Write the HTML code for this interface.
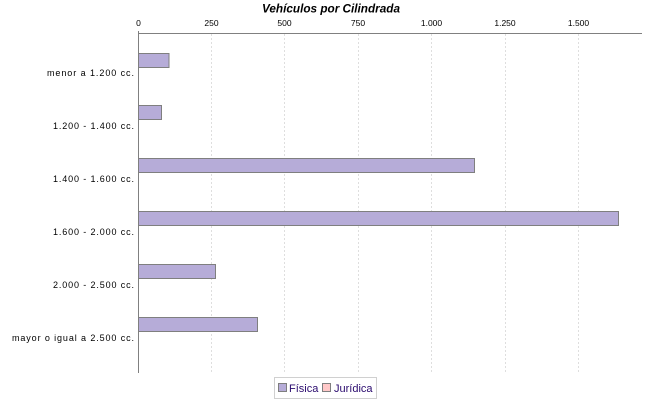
<!DOCTYPE html>
<html>
<head>
<meta charset="utf-8">
<style>
html,body{margin:0;padding:0;background:#fff;}
svg{display:block;}
</style>
</head>
<body>
<svg width="650" height="400" viewBox="0 0 650 400" xmlns="http://www.w3.org/2000/svg">
  <rect x="0" y="0" width="650" height="400" fill="#ffffff"/>
  <!-- Title -->
  <text x="331" y="12.5" text-anchor="middle" font-family="Liberation Sans, sans-serif" font-size="12" font-weight="bold" font-style="italic" fill="#000" textLength="138" lengthAdjust="spacingAndGlyphs">Vehículos por Cilindrada</text>

  <!-- gridlines -->
  <g stroke="#dedede" stroke-width="1" stroke-dasharray="2,2">
    <line x1="211.5" y1="34" x2="211.5" y2="373"/>
    <line x1="284.5" y1="34" x2="284.5" y2="373"/>
    <line x1="358.5" y1="34" x2="358.5" y2="373"/>
    <line x1="431.5" y1="34" x2="431.5" y2="373"/>
    <line x1="505.5" y1="34" x2="505.5" y2="373"/>
    <line x1="578.5" y1="34" x2="578.5" y2="373"/>
  </g>

  <!-- tick labels -->
  <g font-family="Liberation Sans, sans-serif" font-size="8.5" fill="#000" text-anchor="middle">
    <text x="138.5" y="26">0</text>
    <text x="211.5" y="26">250</text>
    <text x="284.5" y="26">500</text>
    <text x="358" y="26">750</text>
    <text x="431.5" y="26">1.000</text>
    <text x="505" y="26">1.250</text>
    <text x="578.5" y="26">1.500</text>
  </g>

  <!-- axes -->
  <line x1="138" y1="33.5" x2="642" y2="33.5" stroke="#808080" stroke-width="1"/>
  <line x1="138.5" y1="31" x2="138.5" y2="373" stroke="#808080" stroke-width="1"/>

  <!-- bars -->
  <g fill="#b6acd8" stroke="#7f7f7f" stroke-width="1">
    <rect x="138.5" y="53.5" width="30.5" height="14"/>
    <rect x="138.5" y="105.5" width="23" height="14"/>
    <rect x="138.5" y="158.5" width="336" height="14"/>
    <rect x="138.5" y="211.5" width="480" height="14"/>
    <rect x="138.5" y="264.5" width="77" height="14"/>
    <rect x="138.5" y="317.5" width="119" height="14"/>
  </g>

  <!-- category labels -->
  <g font-family="Liberation Sans, sans-serif" font-size="9" fill="#000" text-anchor="end">
    <text x="134" y="76" textLength="87" lengthAdjust="spacing">menor a 1.200 cc.</text>
    <text x="134" y="129" textLength="81" lengthAdjust="spacing">1.200 - 1.400 cc.</text>
    <text x="134" y="182" textLength="81" lengthAdjust="spacing">1.400 - 1.600 cc.</text>
    <text x="134" y="235" textLength="81" lengthAdjust="spacing">1.600 - 2.000 cc.</text>
    <text x="134" y="288" textLength="81" lengthAdjust="spacing">2.000 - 2.500 cc.</text>
    <text x="134" y="341" textLength="122" lengthAdjust="spacing">mayor o igual a 2.500 cc.</text>
  </g>

  <!-- legend -->
  <rect x="274.5" y="377.5" width="102" height="21" fill="#fff" stroke="#d0d0d0" stroke-width="1"/>
  <rect x="278.5" y="383.5" width="8" height="8" fill="#b6acd8" stroke="#7f7f7f" stroke-width="1"/>
  <text x="289" y="392" font-family="Liberation Sans, sans-serif" font-size="11" fill="#2a0a6e">Física</text>
  <rect x="322.5" y="383.5" width="8" height="8" fill="#ffc8c8" stroke="#7f7f7f" stroke-width="1"/>
  <text x="334" y="392" font-family="Liberation Sans, sans-serif" font-size="11" fill="#2a0a6e">Jurídica</text>
</svg>
</body>
</html>
